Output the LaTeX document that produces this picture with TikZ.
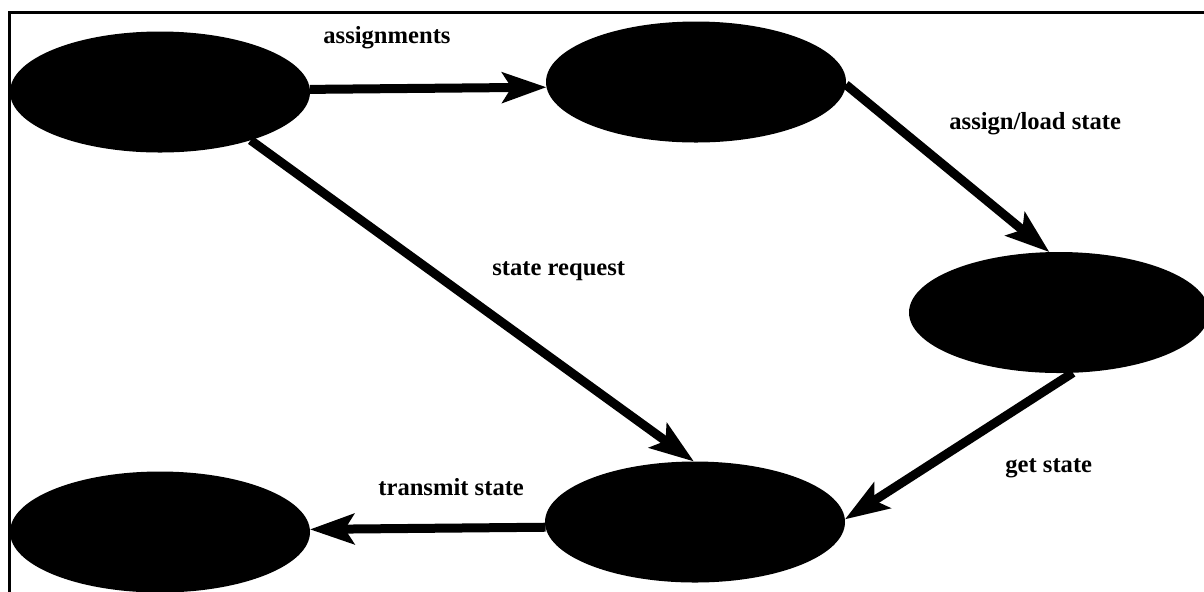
\documentclass[tikz,border=0pt]{standalone}
\usepackage{fontspec}
\setmainfont{Liberation Serif}
\usetikzlibrary{arrows.meta,shapes.geometric}
\begin{document}
\begin{tikzpicture}[x=0.5pt,y=-0.5pt,
  stateblob/.style={ellipse,fill=black,draw=none,inner sep=0pt,outer sep=0pt,
    minimum width=150pt,minimum height=60.5pt},
  flow/.style={line width=4.5pt,-{Stealth[length=22pt,width=15pt,inset=4.5pt]}},
  lbl/.style={anchor=base west,inner sep=0pt,
    font=\fontsize{12.3pt}{14pt}\selectfont\bfseries}]
\useasboundingbox (0,0) rectangle (1204,591);
\clip (0,0) rectangle (1204,591);

% frame (only its top and left sides fall inside the page)
\draw[line width=1.5pt] (9,620) -- (9,12.5) -- (1230,12.5);

% states
\node[stateblob] (src) at (160,92) {};
\node[stateblob] (asg) at (696,82) {};
\node[stateblob] (ld)  at (1059,312.5) {};
\node[stateblob] (st)  at (695,522) {};
\node[stateblob] (dst) at (160,532) {};

% transitions
\draw[flow] (src.1.5)  -- (asg.182);
\draw[flow] (asg.-1)   -- (ld.99.4);
\draw[flow] (src.-28.3) -- (st.91.9);
\draw[flow] (ld.-77)   -- (st.1.9);
\draw[flow] (st.182.3) -- (dst.1.5);

% labels
\node[lbl] (l1) at (323,43)  {assignments};
\node[lbl] (l2) at (949,129) {assign/load state};
\node[lbl] (l3) at (492,275) {state request};
\node[lbl] (l4) at (1005,472) {get state};
\node[lbl] (l5) at (378,495) {transmit state};
\end{tikzpicture}
\end{document}
